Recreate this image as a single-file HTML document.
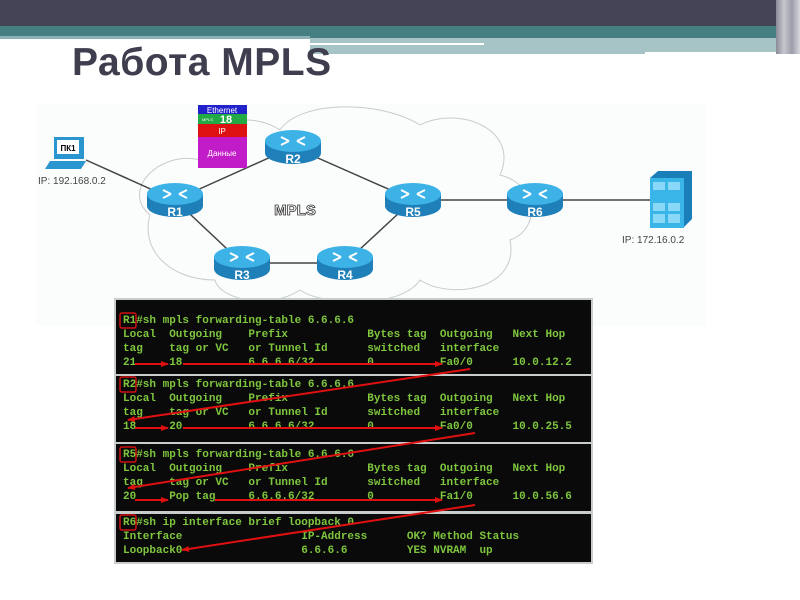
<!DOCTYPE html>
<html><head><meta charset="utf-8"><style>
body{margin:0;width:800px;height:600px;background:#fff;position:relative;overflow:hidden;font-family:"Liberation Sans",sans-serif}
.a{position:absolute}
pre{margin:0;font-family:"Liberation Mono",monospace;font-size:11px;line-height:14px;color:#7ec63e;font-weight:bold}
</style></head><body>
<div class="a" style="left:0;top:0;width:800px;height:26px;background:#434355"></div>
<div class="a" style="left:0;top:26px;width:800px;height:12px;background:#467f82"></div>
<div class="a" style="left:0;top:36px;width:310px;height:3px;background:#8fb3b5"></div>
<div class="a" style="left:310px;top:38px;width:470px;height:16px;background:#a6c4c6"></div>
<div class="a" style="left:310px;top:43px;width:174px;height:2px;background:#fff"></div>
<div class="a" style="left:645px;top:52px;width:140px;height:2px;background:#fff"></div>
<div class="a" style="left:776px;top:0;width:24px;height:54px;background:linear-gradient(90deg,#8b8b98,#c7c7cf,#9d9daa,#d8d8de)"></div>
<div class="a" style="left:72px;top:41px;font-size:39px;font-weight:bold;color:#3e3e4e;letter-spacing:0.5px">Работа MPLS</div>

<svg class="a" style="left:0;top:0" width="800" height="600">
<rect x="36" y="104" width="670" height="222" fill="#fbfcfc"/>
<path d="M150,215 C120,190 160,150 200,160 C200,120 250,110 280,130 C300,100 380,100 420,125 C460,105 520,130 500,175 C540,185 540,230 510,240 C520,290 450,300 420,280 C400,310 320,305 300,290 C270,310 220,300 215,280 C170,280 140,250 150,215 Z" fill="none" stroke="#c8cccc" stroke-width="1"/>
<g stroke="#444" stroke-width="1.5">
<line x1="86" y1="160" x2="175" y2="200"/><line x1="175" y1="200" x2="293" y2="147"/>
<line x1="293" y1="147" x2="413" y2="200"/><line x1="175" y1="200" x2="242" y2="263"/>
<line x1="242" y1="263" x2="345" y2="263"/><line x1="345" y1="263" x2="413" y2="200"/>
<line x1="413" y1="200" x2="535" y2="200"/><line x1="535" y1="200" x2="650" y2="200"/>
</g>
<defs><g id="rt"><path d="M-28,-6 v12 a28,11 0 0 0 56,0 v-12 Z" fill="#1f7fb8"/><ellipse cx="0" cy="-6" rx="28" ry="11" fill="#3cb2e6"/><path d="M-12,-10 l8,4 M12,-10 l-8,4 M-12,-2 l8,-4 M12,-2 l-8,-4" stroke="#fff" stroke-width="2"/></g></defs>
<g font-weight="bold" font-size="12" fill="#fff" text-anchor="middle">
<use href="#rt" x="175" y="200"/><text x="175" y="216">R1</text>
<use href="#rt" x="293" y="147"/><text x="293" y="163">R2</text>
<use href="#rt" x="242" y="263"/><text x="242" y="279">R3</text>
<use href="#rt" x="345" y="263"/><text x="345" y="279">R4</text>
<use href="#rt" x="413" y="200"/><text x="413" y="216">R5</text>
<use href="#rt" x="535" y="200"/><text x="535" y="216">R6</text>
</g>
<text x="295" y="215" font-size="15" font-weight="bold" fill="#fff" stroke="#333" stroke-width="0.8" text-anchor="middle">MPLS</text>
<rect x="54" y="137" width="30" height="22" fill="#2a95cf"/><rect x="57" y="140" width="22" height="14" fill="#fff"/>
<text x="68" y="151" font-size="8" font-weight="bold" text-anchor="middle">ПК1</text>
<path d="M50,161 h36 l-5,8 h-36 Z" fill="#2a95cf"/>
<text x="38" y="184" font-size="10" fill="#444">IP: 192.168.0.2</text>
<path d="M650,178 l8,-7 h34 v48 l-8,8 Z" fill="#1a7fb8"/>
<rect x="650" y="178" width="34" height="50" fill="#3ab5e8"/>
<g fill="#8ad8f7"><rect x="653" y="182" width="12" height="8"/><rect x="668" y="182" width="12" height="8"/><rect x="653" y="203" width="12" height="8"/><rect x="668" y="203" width="12" height="8"/><rect x="653" y="214" width="12" height="9"/><rect x="668" y="214" width="12" height="9"/></g>
<text x="622" y="243" font-size="10" fill="#444">IP: 172.16.0.2</text>
<rect x="198" y="105" width="49" height="9" fill="#2222cc"/><text x="222" y="113" font-size="8" fill="#fff" text-anchor="middle">Ethernet</text>
<rect x="198" y="114" width="49" height="10" fill="#22aa44"/><text x="226" y="123" font-size="11" font-weight="bold" fill="#fff" text-anchor="middle">18</text><text x="202" y="121" font-size="4" fill="#fff">MPLS</text>
<rect x="198" y="124" width="49" height="13" fill="#dd1111"/><text x="222" y="134" font-size="8" fill="#fff" text-anchor="middle">IP</text>
<rect x="198" y="137" width="49" height="31" fill="#c21bc8"/><text x="222" y="156" font-size="8" fill="#fff" text-anchor="middle">Данные</text>
<rect x="114" y="298" width="479" height="266" fill="#c9cccc"/>
<rect x="116" y="300" width="475" height="74" fill="#0a0a0a"/>
<rect x="116" y="376" width="475" height="66" fill="#0a0a0a"/>
<rect x="116" y="444" width="475" height="67" fill="#0a0a0a"/>
<rect x="116" y="514" width="475" height="48" fill="#0a0a0a"/>
</svg>
<div class="a" style="left:123px;top:314px"><pre>R1#sh mpls forwarding-table 6.6.6.6
Local  Outgoing    Prefix            Bytes tag  Outgoing   Next Hop
tag    tag or VC   or Tunnel Id      switched   interface
21     18          6.6.6.6/32        0          Fa0/0      10.0.12.2</pre></div>
<div class="a" style="left:123px;top:378px"><pre>R2#sh mpls forwarding-table 6.6.6.6
Local  Outgoing    Prefix            Bytes tag  Outgoing   Next Hop
tag    tag or VC   or Tunnel Id      switched   interface
18     20          6.6.6.6/32        0          Fa0/0      10.0.25.5</pre></div>
<div class="a" style="left:123px;top:448px"><pre>R5#sh mpls forwarding-table 6.6.6.6
Local  Outgoing    Prefix            Bytes tag  Outgoing   Next Hop
tag    tag or VC   or Tunnel Id      switched   interface
20     Pop tag     6.6.6.6/32        0          Fa1/0      10.0.56.6</pre></div>
<div class="a" style="left:123px;top:516px"><pre>R6#sh ip interface brief loopback 0
Interface                  IP-Address      OK? Method Status
Loopback0                  6.6.6.6         YES NVRAM  up</pre></div>
<svg class="a" style="left:0;top:0" width="800" height="600">
<defs><marker id="ar" markerWidth="8" markerHeight="6" refX="7" refY="3" orient="auto" markerUnits="userSpaceOnUse"><path d="M0,0 L8,3 L0,6 Z" fill="#e01010"/></marker></defs>
<g stroke="#e01010" stroke-width="2" fill="none" marker-end="url(#ar)">
<line x1="135" y1="364" x2="168" y2="364"/><line x1="183" y1="364" x2="442" y2="364"/>
<line x1="470" y1="369" x2="128" y2="420"/>
<line x1="135" y1="428" x2="168" y2="428"/><line x1="183" y1="428" x2="442" y2="428"/>
<line x1="475" y1="433" x2="128" y2="488"/>
<line x1="135" y1="500" x2="168" y2="500"/><line x1="215" y1="500" x2="442" y2="500"/>
<line x1="475" y1="505" x2="182" y2="550"/>
</g>
<g stroke="#d01010" stroke-width="1.5" fill="none">
<rect x="120" y="313" width="16" height="15" rx="2"/><rect x="120" y="377" width="16" height="15" rx="2"/>
<rect x="120" y="447" width="16" height="15" rx="2"/><rect x="120" y="515" width="16" height="15" rx="2"/>
</g>
</svg>
</body></html>
